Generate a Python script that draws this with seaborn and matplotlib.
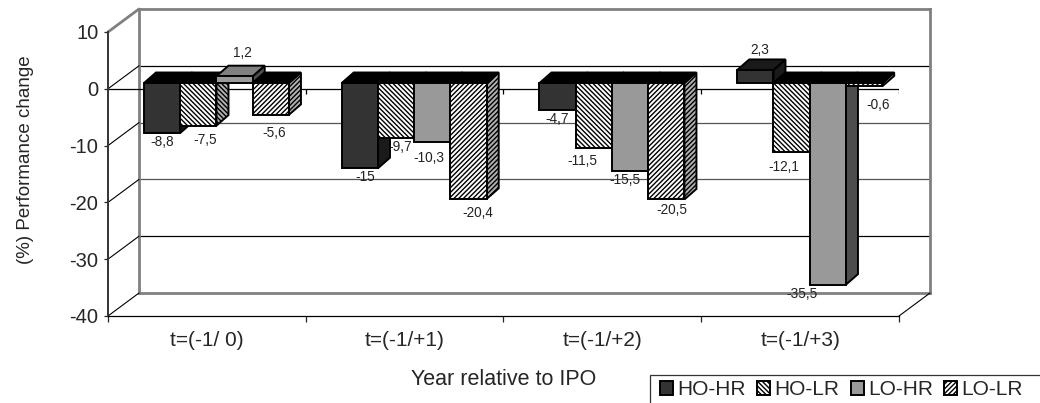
import matplotlib
matplotlib.use("Agg")
import matplotlib.pyplot as plt
import pandas as pd
import seaborn as sns
from matplotlib.lines import Line2D
from matplotlib.patches import Patch, Polygon, Rectangle

# Data
periods = ["t=(-1/ 0)", "t=(-1/+1)", "t=(-1/+2)", "t=(-1/+3)"]
groups = ["HO-HR", "HO-LR", "LO-HR", "LO-LR"]
ho_hr = [-8.8, -15, -4.7, 2.3]
ho_lr = [-7.5, -9.7, -11.5, -12.1]
lo_hr = [1.2, -10.3, -15.5, -35.5]
lo_lr = [-5.6, -20.4, -20.5, -0.6]
y_ticks = [10, 0, -10, -20, -30, -40]

# Styling per series
fronts = ["#333333", "#ffffff", "#999999", "#ffffff"]
sides = ["#1a1a1a", "#b0b0b0", "#4d4d4d", "#b0b0b0"]
hatches = [None, "\\" * 7, None, "/" * 7]

# Label nudges in pixels from the end of each bar, same order as the values
nudges = [
    [(0, 9), (5, 9), (0, 9), (4, -20)],
    [(7, 14), (4, 9), (-11, 13), (-8, 15)],
    [(8, -23), (-3, 16), (-5, 9), (-26, 9)],
    [(3, 18), (9, 14), (6, 11), (14, 19)],
]

sns.set_style("white")
plt.rcParams["font.family"] = ["Liberation Sans", "DejaVu Sans"]
plt.rcParams["hatch.linewidth"] = 1.0
plt.rcParams["axes.unicode_minus"] = False

W, H = 1040, 403
fig = plt.figure(figsize=(W / 100, H / 100), dpi=100)


def box(left, top, right, bottom):
    return [left / W, 1 - bottom / H, (right - left) / W, (bottom - top) / H]


def diag(x0, y0, x1, y1, color="black", lw=0.8):
    fig.add_artist(Line2D([x0 / W, x1 / W], [1 - y0 / H, 1 - y1 / H], color=color, lw=lw))


# back wall
back = fig.add_axes(box(139, 9, 930, 293), zorder=1)
back.set_xlim(-0.5, 3.5)
back.set_ylim(-40, 10)
back.set_xticks([])
back.set_yticks([])
for s in back.spines.values():
    s.set_color("#808080")
    s.set_linewidth(2)
for v, c in zip(y_ticks[1:-1], ["black", "#555555", "#555555", "black"]):
    back.axhline(v, color=c, lw=0.9)

# front plane with the real axes
front = fig.add_axes(box(108, 32, 899, 316), zorder=2)
front.patch.set_alpha(0)
front.set_xlim(-0.5, 3.5)
front.set_ylim(-40, 10)
sns.despine(ax=front, top=True, right=True)
front.spines["left"].set_color("#333333")
front.spines["left"].set_linewidth(1.4)
front.spines["bottom"].set_color("black")
front.spines["bottom"].set_linewidth(0.9)
front.axhline(0, color="black", lw=0.9)
front.set_yticks(y_ticks)
front.tick_params(axis="y", left=True, length=3, width=0.9, labelsize=14.5, pad=4)
front.set_xticks(range(4))
front.set_xticklabels(periods)
front.tick_params(axis="x", bottom=False, labelsize=15, pad=7)
bounds = [k - 0.5 for k in range(5)]
front.set_xticks(bounds, minor=True)
front.tick_params(axis="x", which="minor", bottom=True, length=4, width=0.9)
front.vlines(bounds[1:], -0.9, 0, color="black", lw=0.9)
front.set_xlabel("Year relative to IPO", fontsize=15.5)
front.xaxis.set_label_coords(0.5, -0.185)
front.set_ylabel("(%) Performance change", fontsize=13.5)
front.yaxis.set_label_coords(-0.0935, 0.549)

# wall diagonals
diag(108, 32, 139, 9, "#808080", 2)
for v in y_ticks[1:]:
    yf = 32 + (10 - v) * 5.68
    diag(108, yf, 139, yf - 23)
diag(899, 316, 930, 293)

# bars sit in their own plane a little inside the front one
df = pd.DataFrame({"period": periods, "HO-HR": ho_hr, "HO-LR": ho_lr, "LO-HR": lo_hr, "LO-LR": lo_lr})
long_df = df.melt(id_vars="period", var_name="group", value_name="change")

ax = fig.add_axes(box(117.6, 26.2, 908.6, 310.2), zorder=3)
sns.barplot(data=long_df, x="period", y="change", hue="group", hue_order=groups,
            palette=fronts, saturation=1, width=0.733, gap=0, legend=False, ax=ax)
ax.set_xlim(-0.5, 3.5)
ax.set_ylim(-40, 10)
ax.axis("off")

px_x = 4 / 791
px_y = 50 / 284
dx = 12 * px_x
dy = 10.5 * px_y
values = [ho_hr, ho_lr, lo_hr, lo_lr]

for i, cont in enumerate(ax.containers):
    for k, bar in enumerate(cont):
        x0 = bar.get_x()
        x1 = x0 + bar.get_width()
        v = values[i][k]
        hi = max(v, 0)
        order = 10 + 2 * i
        bar.set_edgecolor("black")
        bar.set_linewidth(1.4)
        bar.set_zorder(order + 1)
        bar.set_clip_on(False)
        if hatches[i]:
            bar.set_hatch(hatches[i])
        # right side
        ax.add_patch(Polygon([(x1, hi), (x1 + dx, hi + dy), (x1 + dx, min(v, 0) + dy), (x1, min(v, 0))],
                             facecolor=sides[i], edgecolor="black", lw=1.4, hatch=hatches[i],
                             zorder=order, clip_on=False))
        # top, solid black on the falling bars
        top_col = sides[i] if v > 0 and i == 0 else ("#808080" if v > 0 else "black")
        ax.add_patch(Polygon([(x0, hi), (x0 + dx, hi + dy), (x1 + dx, hi + dy), (x1, hi)],
                             facecolor=top_col, edgecolor="black", lw=1.4,
                             zorder=order, clip_on=False))
        # value label, decimal comma like the original
        nx, ny = nudges[i][k]
        ax.annotate(f"{v:g}".replace(".", ","), (x0 + bar.get_width() / 2, v),
                    xytext=(nx * 0.72, -ny * 0.72), textcoords="offset points",
                    ha="center", va="center", fontsize=9.8, color="#222222",
                    zorder=(9 if v == -9.7 else 40), annotation_clip=False)

# legend box runs off the right and bottom edge in the original
fig.add_artist(Rectangle((650 / W, -0.1), 0.5, 1.1 - 375 / H, transform=fig.transFigure,
                         facecolor="white", edgecolor="#333333", lw=0.9, zorder=4))
handles = [Patch(facecolor=f if not h else "white", edgecolor="black", hatch=h, lw=1.4)
           for f, h in zip(fronts, hatches)]
leg = fig.legend(handles, groups, loc="upper left", bbox_to_anchor=(658 / W, 1 - 378 / H), ncol=4,
                 fontsize=15, frameon=False, handlelength=0.62, handleheight=0.62,
                 handletextpad=0.2, columnspacing=0.55, borderpad=0.1, borderaxespad=0)
leg.set_zorder(5)

fig.savefig("out.png", dpi=100)
